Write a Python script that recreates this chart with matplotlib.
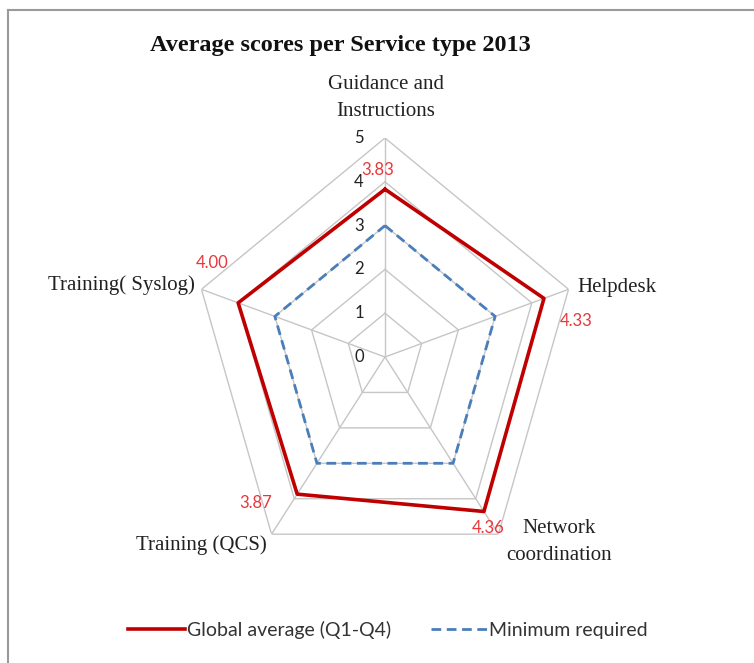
"""
Radar chart: average scores per service type 2013.
"""

import numpy as np
import matplotlib
matplotlib.use("Agg")
import matplotlib.pyplot as plt
from matplotlib.lines import Line2D

categorias = ["Guidance and\nInstructions", "Helpdesk", "Network\ncoordination",
              "Training (QCS)", "Training( Syslog)"]
media_global = [3.83, 4.33, 4.36, 3.87, 4.00]
minimo_exigido = [3, 3, 3, 3, 3]
niveis = [0, 1, 2, 3, 4, 5]
rotulos_media = ["3.83", "4.33", "4.36", "3.87", "4.00"]

SERIF = ["Liberation Serif", "DejaVu Serif"]
SANS = ["Lato", "DejaVu Sans"]

VERMELHO = "#c00000"
AZUL = "#4a7ebb"
CINZA = "#c6c6c6"

W, H = 754, 663
fig = plt.figure(figsize=(W / 100, H / 100), dpi=100)
fig.patch.set_facecolor("white")

# moldura cinza (esquerda e topo visiveis)
fig.add_artist(Line2D([8 / W, 8 / W], [0, 1 - 10 / H], color="#9a9a9a", lw=1.5))
fig.add_artist(Line2D([8 / W, 1], [1 - 10 / H, 1 - 10 / H], color="#9a9a9a", lw=1.5))

# eixo polar achatado na horizontal como na imagem original
ax = fig.add_axes([192 / W, (H - 576) / H, 386 / W, 438 / H], projection="polar")
ax.set_aspect("auto")
ax.set_theta_zero_location("N")
ax.set_theta_direction(-1)
ax.set_ylim(0, 5)
ax.spines["polar"].set_visible(False)
ax.patch.set_visible(False)

angulos = np.linspace(0, 2 * np.pi, len(categorias), endpoint=False)
ang_fechado = np.append(angulos, angulos[0])

ax.set_xticks(angulos)
ax.set_xticklabels([])
ax.set_yticks([])
ax.xaxis.grid(True, color=CINZA, lw=1)

for n in niveis[1:]:
    ax.plot(ang_fechado, [n] * len(ang_fechado), color=CINZA, lw=1, zorder=1)

# rotulos do eixo radial
for n in niveis:
    ax.annotate(str(n), xy=(0, n), xytext=(-26, 0), textcoords="offset pixels",
                ha="center", va="center", fontsize=12, family=SANS, color="#222222")

ax.plot(ang_fechado, minimo_exigido + minimo_exigido[:1], color=AZUL, lw=2,
        linestyle=(0, (3.5, 2)), zorder=3, label="Minimum required")
ax.plot(ang_fechado, media_global + media_global[:1], color=VERMELHO, lw=2.6,
        zorder=4, label="Global average (Q1-Q4)")

# rotulos de dados
desloc_dados = [(-7, 19), (32, -23), (4, -17), (-42, -9), (-26, 40)]
for a, v, txt, d in zip(angulos, media_global, rotulos_media, desloc_dados):
    ax.annotate(txt, xy=(a, v), xytext=d, textcoords="offset pixels",
                ha="center", va="center", fontsize=12, family=SANS, color="#e8373c")

# rotulos das categorias
desloc_cat = [((1, 40), "center"), ((9, 2), "left"), ((61, -8), "center"),
              ((-5, -11), "right"), ((-7, 4), "right")]
for a, nome, (d, ha) in zip(angulos, categorias, desloc_cat):
    ax.annotate(nome, xy=(a, 5), xytext=d, textcoords="offset pixels",
                ha=ha, va="center", fontsize=15, family=SERIF, color="#222222",
                multialignment="center", linespacing=1.55)

fig.text(340 / W, 1 - 45 / H, "Average scores per Service type 2013",
         ha="center", va="center", fontsize=17.5, fontweight="bold", family=SERIF,
         color="#111111")

handles = [Line2D([], [], color=VERMELHO, lw=2.6),
           Line2D([], [], color=AZUL, lw=2, linestyle=(0, (3.5, 2)))]
fig.legend(handles, ["Global average (Q1-Q4)", "Minimum required"],
           loc="center", bbox_to_anchor=(388 / W, 33 / H), ncol=2, frameon=False,
           prop={"family": SANS, "size": 14}, handlelength=2.9, handletextpad=0.1,
           columnspacing=2.05, labelcolor="#333333")

fig.savefig("out.png", dpi=100)
